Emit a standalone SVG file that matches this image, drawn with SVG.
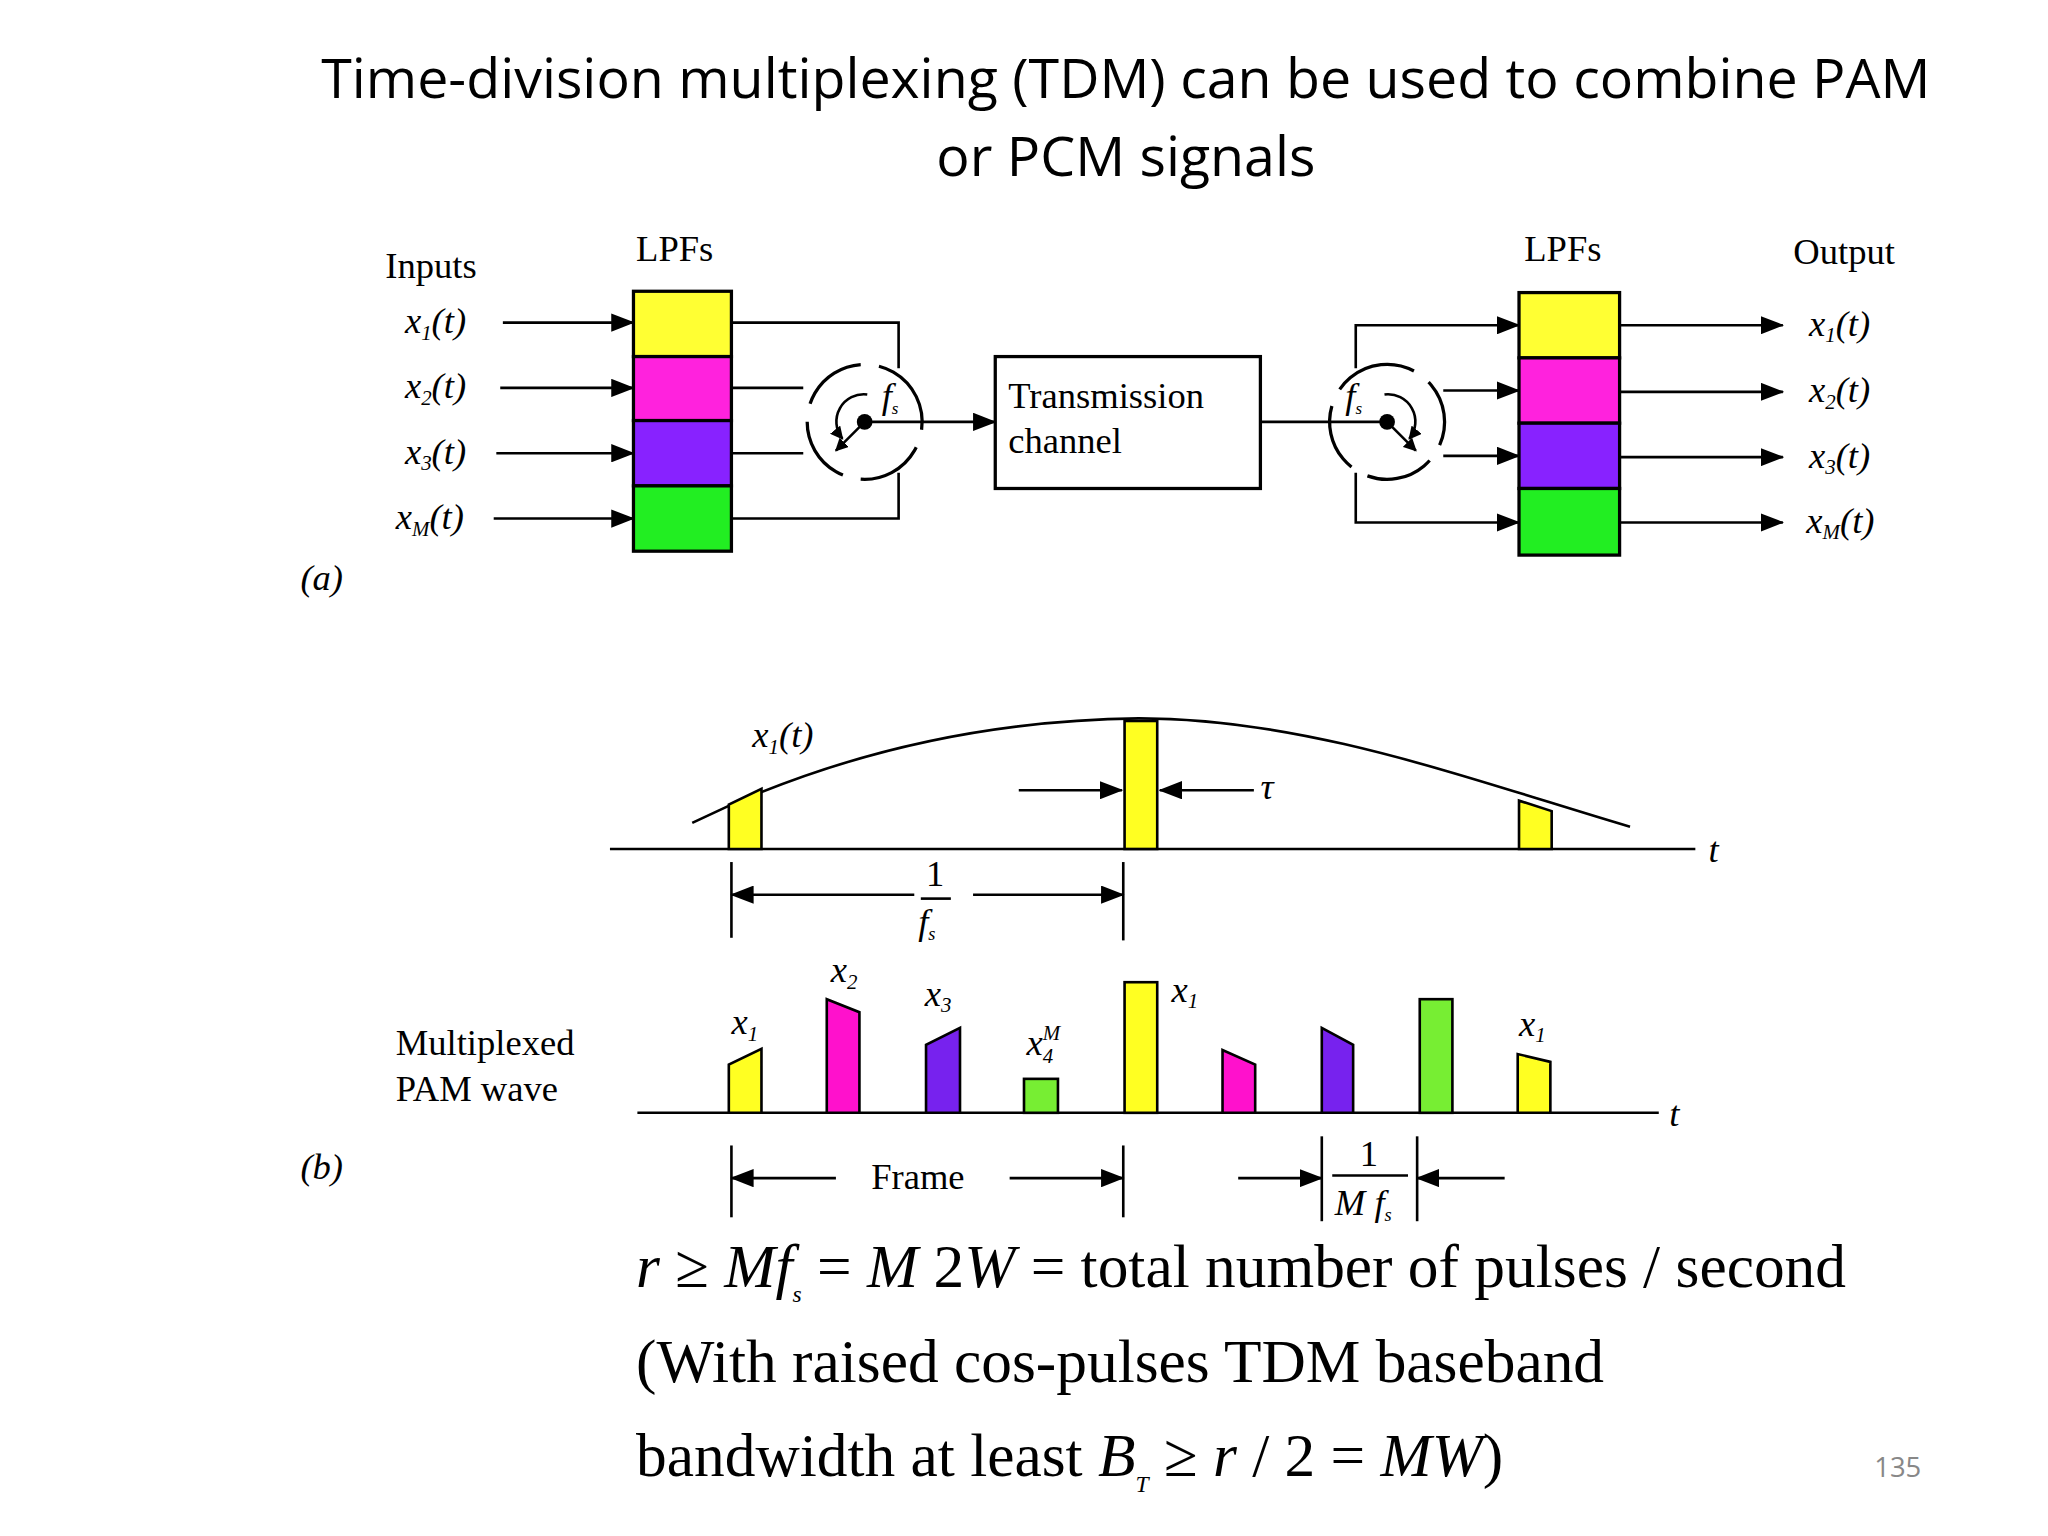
<svg xmlns="http://www.w3.org/2000/svg" width="2048" height="1536" viewBox="0 0 2048 1536">
<defs>
<marker id="ah" markerWidth="10" markerHeight="10" refX="9" refY="5" orient="auto" markerUnits="userSpaceOnUse"><path d="M0,0 L10,5 L0,10 z" fill="#000"/></marker>
<marker id="ahl" markerWidth="18" markerHeight="14" refX="17" refY="7" orient="auto" markerUnits="userSpaceOnUse"><path d="M0,0 L18,7 L0,14 z" fill="#000"/></marker>
<style>
.t{font-family:"Open Sans","Liberation Sans",sans-serif;font-size:42.5px;fill:#000}
.s{font-family:"Liberation Serif",serif;font-size:28px;fill:#000}
.i{font-family:"Liberation Serif",serif;font-style:italic;font-size:28px;fill:#000}
.e{font-family:"Liberation Serif",serif;font-size:47px;fill:#000}
.ln{stroke:#000;stroke-width:2;fill:none}
.ar{stroke:#000;stroke-width:2;fill:none;marker-end:url(#ahl)}
.bx{stroke:#000;stroke-width:2.5}
.dc{stroke:#000;stroke-width:2.5;fill:none;stroke-dasharray:52 14}
</style>
</defs>
<rect width="2048" height="1536" fill="#fff"/>
<g transform="scale(1.30612)">
<g id="title">
<text class="t" x="862" y="75" text-anchor="middle">Time-division multiplexing (TDM) can be used to combine PAM</text>
<text class="t" x="862" y="135" text-anchor="middle">or PCM signals</text>
</g>
<g id="labels-a">
<text class="s" x="295" y="213">Inputs</text>
<text class="s" x="487" y="200">LPFs</text>
<text class="s" x="1167" y="200">LPFs</text>
<text class="s" x="1373" y="202">Output</text>
<text class="i" x="310" y="255">x<tspan font-size="16" dy="5">1</tspan><tspan dy="-5">(t)</tspan></text>
<text class="i" x="310" y="305">x<tspan font-size="16" dy="5">2</tspan><tspan dy="-5">(t)</tspan></text>
<text class="i" x="310" y="355">x<tspan font-size="16" dy="5">3</tspan><tspan dy="-5">(t)</tspan></text>
<text class="i" x="303" y="405">x<tspan font-size="16" dy="5">M</tspan><tspan dy="-5">(t)</tspan></text>
<text class="i" x="1385" y="257">x<tspan font-size="16" dy="5">1</tspan><tspan dy="-5">(t)</tspan></text>
<text class="i" x="1385" y="308">x<tspan font-size="16" dy="5">2</tspan><tspan dy="-5">(t)</tspan></text>
<text class="i" x="1385" y="358">x<tspan font-size="16" dy="5">3</tspan><tspan dy="-5">(t)</tspan></text>
<text class="i" x="1383" y="408">x<tspan font-size="16" dy="5">M</tspan><tspan dy="-5">(t)</tspan></text>
<text class="i" x="230" y="452">(a)</text>
</g>
<g id="lpf-left">
<rect class="bx" x="485" y="223" width="75" height="50" fill="#ffff33"/>
<rect class="bx" x="485" y="273" width="75" height="49" fill="#ff22dd"/>
<rect class="bx" x="485" y="322" width="75" height="50" fill="#8822ff"/>
<rect class="bx" x="485" y="372" width="75" height="50" fill="#22ee22"/>
</g>
<g id="lpf-right">
<rect class="bx" x="1163" y="224" width="77" height="50" fill="#ffff33"/>
<rect class="bx" x="1163" y="274" width="77" height="50" fill="#ff22dd"/>
<rect class="bx" x="1163" y="324" width="77" height="50" fill="#8822ff"/>
<rect class="bx" x="1163" y="374" width="77" height="51" fill="#22ee22"/>
</g>
<g id="channel">
<rect x="762" y="273" width="203" height="101" fill="#fff" stroke="#000" stroke-width="2.5"/>
<text class="s" x="772" y="312">Transmission</text>
<text class="s" x="772" y="347">channel</text>
</g>
<g id="comm-left">
<circle class="dc" cx="662" cy="323" r="44" transform="rotate(-60 662 323)"/>
<path class="ln" d="M664,302 A21,21 0 0,0 645,336" marker-end="url(#ah)"/>
<circle cx="662" cy="323" r="6" fill="#000"/>
<line x1="662" y1="323" x2="640" y2="345" stroke="#000" stroke-width="2" marker-end="url(#ah)"/>
<text class="i" x="675" y="312" font-size="24">f<tspan font-size="13" dy="5">s</tspan></text>
</g>
<g id="comm-right">
<circle class="dc" cx="1062" cy="323" r="44" transform="rotate(-130 1062 323)"/>
<path class="ln" d="M1060,302 A21,21 0 0,1 1079,336" marker-end="url(#ah)"/>
<circle cx="1062" cy="323" r="6" fill="#000"/>
<line x1="1062" y1="323" x2="1084" y2="345" stroke="#000" stroke-width="2" marker-end="url(#ah)"/>
<text class="i" x="1030" y="312" font-size="24">f<tspan font-size="13" dy="5">s</tspan></text>
</g>
<g id="connectors">
<line class="ar" x1="385" y1="247" x2="485" y2="247"/>
<line class="ar" x1="383" y1="297" x2="485" y2="297"/>
<line class="ar" x1="380" y1="347" x2="485" y2="347"/>
<line class="ar" x1="378" y1="397" x2="485" y2="397"/>
<polyline class="ln" points="560,247 688,247 688,282"/>
<line class="ln" x1="560" y1="297" x2="615" y2="297"/>
<line class="ln" x1="560" y1="347" x2="615" y2="347"/>
<polyline class="ln" points="560,397 688,397 688,362"/>
<line class="ar" x1="662" y1="323" x2="762" y2="323"/>
<line class="ln" x1="965" y1="323" x2="1062" y2="323"/>
<polyline class="ar" points="1038,282 1038,249 1163,249"/>
<line class="ar" x1="1105" y1="299" x2="1163" y2="299"/>
<line class="ar" x1="1105" y1="349" x2="1163" y2="349"/>
<polyline class="ar" points="1038,362 1038,400 1163,400"/>
<line class="ar" x1="1240" y1="249" x2="1365" y2="249"/>
<line class="ar" x1="1240" y1="300" x2="1365" y2="300"/>
<line class="ar" x1="1240" y1="350" x2="1365" y2="350"/>
<line class="ar" x1="1240" y1="400" x2="1365" y2="400"/>
</g>
<g id="sampled">
<line class="ln" x1="467" y1="650" x2="1298" y2="650"/>
<text class="i" x="1308" y="660" font-size="22">t</text>
<path class="ln" d="M530,630 Q690,552 872,550 C1000,550 1120,595 1248,633" stroke-width="2.5"/>
<path d="M558,650 V616 L583,604 V650 z" fill="#ffff22" stroke="#000" stroke-width="2"/>
<rect x="861" y="552" width="25" height="98" fill="#ffff22" stroke="#000" stroke-width="2"/>
<path d="M1163,650 V613 L1188,621 V650 z" fill="#ffff22" stroke="#000" stroke-width="2"/>
<text class="i" x="576" y="572">x<tspan font-size="16" dy="5">1</tspan><tspan dy="-5">(t)</tspan></text>
<line class="ar" x1="780" y1="605" x2="859" y2="605"/>
<line class="ar" x1="960" y1="605" x2="888" y2="605"/>
<text class="i" x="965" y="612" font-size="22">τ</text>
<line class="ln" x1="560" y1="660" x2="560" y2="718"/>
<line class="ln" x1="860" y1="660" x2="860" y2="720"/>
<line class="ar" x1="700" y1="685" x2="560" y2="685"/>
<line class="ar" x1="745" y1="685" x2="860" y2="685"/>
<text class="s" x="716" y="678" text-anchor="middle" font-size="24">1</text>
<line class="ln" x1="705" y1="688" x2="728" y2="688" stroke-width="1.5"/>
<text class="i" x="703" y="715" font-size="24">f<tspan font-size="14" dy="5">s</tspan></text>
</g>
<g id="multiplexed">
<text class="s" x="303" y="808" font-size="30">Multiplexed</text>
<text class="s" x="303" y="843" font-size="30">PAM wave</text>
<text class="i" x="230" y="903">(b)</text>
<line class="ln" x1="488" y1="852" x2="1270" y2="852"/>
<text class="i" x="1278" y="862" font-size="22">t</text>
<path d="M558,852 V815 L583,803 V852 z" fill="#ffff22" stroke="#000" stroke-width="2"/>
<path d="M633,852 V765 L658,775 V852 z" fill="#ff11cc" stroke="#000" stroke-width="2"/>
<path d="M709,852 V800 L735,787 V852 z" fill="#7722ee" stroke="#000" stroke-width="2"/>
<rect x="784" y="826" width="26" height="26" fill="#77ee33" stroke="#000" stroke-width="2"/>
<rect x="861" y="752" width="25" height="100" fill="#ffff22" stroke="#000" stroke-width="2"/>
<path d="M936,852 V804 L961,815 V852 z" fill="#ff11cc" stroke="#000" stroke-width="2"/>
<path d="M1012,852 V787 L1036,800 V852 z" fill="#7722ee" stroke="#000" stroke-width="2"/>
<rect x="1087" y="765" width="25" height="87" fill="#77ee33" stroke="#000" stroke-width="2"/>
<path d="M1162,852 V807 L1187,813 V852 z" fill="#ffff22" stroke="#000" stroke-width="2"/>
<text class="i" x="560" y="792">x<tspan font-size="16" dy="5">1</tspan></text>
<text class="i" x="636" y="752">x<tspan font-size="16" dy="5">2</tspan></text>
<text class="i" x="708" y="770">x<tspan font-size="16" dy="5">3</tspan></text>
<text class="i" x="786" y="808">x<tspan font-size="16" dy="6">4</tspan><tspan font-size="16" dx="-8" dy="-18">M</tspan></text>
<text class="i" x="897" y="767">x<tspan font-size="16" dy="5">1</tspan></text>
<text class="i" x="1163" y="793">x<tspan font-size="16" dy="5">1</tspan></text>
<line class="ln" x1="560" y1="877" x2="560" y2="932"/>
<line class="ln" x1="860" y1="877" x2="860" y2="932"/>
<line class="ar" x1="640" y1="902" x2="560" y2="902"/>
<line class="ar" x1="773" y1="902" x2="860" y2="902"/>
<text class="s" x="667" y="910">Frame</text>
<line class="ln" x1="1012" y1="870" x2="1012" y2="935"/>
<line class="ln" x1="1085" y1="870" x2="1085" y2="935"/>
<line class="ar" x1="948" y1="902" x2="1012" y2="902"/>
<line class="ar" x1="1152" y1="902" x2="1085" y2="902"/>
<text class="s" x="1048" y="893" text-anchor="middle" font-size="24">1</text>
<line class="ln" x1="1020" y1="900" x2="1078" y2="900" stroke-width="1.5"/>
<text class="i" x="1022" y="930" font-size="24">M f<tspan font-size="14" dy="5">s</tspan></text>
</g>
<g id="equations">
<text class="e" x="487" y="985"><tspan font-style="italic">r</tspan> ≥ <tspan font-style="italic">Mf</tspan><tspan font-style="italic" font-size="18" dy="12">s</tspan><tspan dy="-12"> = </tspan><tspan font-style="italic">M</tspan> 2<tspan font-style="italic">W</tspan>  = total number of pulses / second</text>
<text class="e" x="487" y="1058">(With raised cos-pulses TDM baseband</text>
<text class="e" x="487" y="1130">bandwidth at least <tspan font-style="italic">B</tspan><tspan font-style="italic" font-size="18" dy="12">T</tspan><tspan dy="-12"> ≥ </tspan><tspan font-style="italic">r</tspan> / 2 = <tspan font-style="italic">MW</tspan>)</text>
<text x="1453" y="1131" font-family="Open Sans, Liberation Sans, sans-serif" font-size="21" fill="#888" text-anchor="middle">135</text>
</g>
</g>
</svg>
